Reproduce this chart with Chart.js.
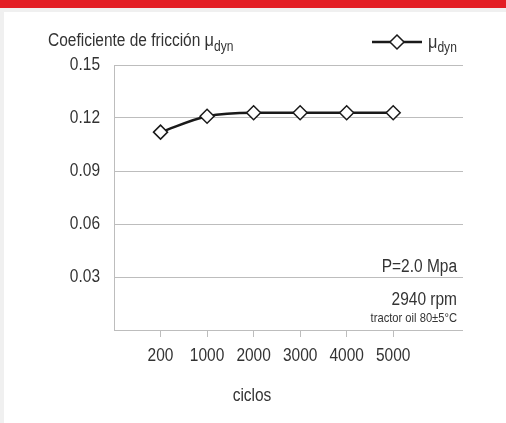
<!DOCTYPE html>
<html>
<head>
<meta charset="utf-8">
<script src="https://cdn.jsdelivr.net/npm/chart.js@4"></script>
<style>
  html, body { margin: 0; padding: 0; background: #fff; }
  #wrap { position: relative; width: 506px; height: 423px; }
  canvas { display: block; }
</style>
</head>
<body>
<div id="wrap"><canvas id="friccionChart" width="506" height="423"></canvas></div>
<script>
// datos
const ciclos = ['200', '1000', '2000', '3000', '4000', '5000'];
const muDyn = [0.112, 0.121, 0.123, 0.123, 0.123, 0.123];
const yTicks = [0.03, 0.06, 0.09, 0.12, 0.15];

const FONT = '"Liberation Sans", Arial, sans-serif';
const TEXT = '#333333';
const GRID = '#bdbdbd';
const SX = 0.86; // letra estrecha

// texto comprimido en horizontal
function narrowText(c, txt, x, y, align, size) {
    c.save();
    c.font = size + 'px ' + FONT;
    c.textAlign = align;
    c.translate(x, y);
    c.scale(SX, 1);
    c.fillText(txt, 0, 0);
    c.restore();
    c.font = size + 'px ' + FONT;
    return c.measureText(txt).width * SX;
}

function drawDiamond(c, x, y, r) {
    c.save();
    c.fillStyle = '#ffffff';
    c.strokeStyle = '#1a1a1a';
    c.lineWidth = 1.5;
    c.beginPath();
    c.moveTo(x, y - r);
    c.lineTo(x + r, y);
    c.lineTo(x, y + r);
    c.lineTo(x - r, y);
    c.closePath();
    c.fill();
    c.stroke();
    c.restore();
}

// marco, título, leyenda, etiquetas y notas
const decoPlugin = {
    id: 'deco',
    beforeDraw(chart) {
        const c = chart.ctx;
        c.save();
        c.fillStyle = '#f0f0f0';
        c.fillRect(0, 0, 506, 423);
        c.fillStyle = '#ffffff';
        c.fillRect(4, 12, 502, 411);
        c.fillStyle = '#e31e24';
        c.fillRect(0, 0, 506, 8);
        c.restore();
    },
    afterDraw(chart) {
        const c = chart.ctx;
        const area = chart.chartArea;
        const xs = chart.scales.x;
        const ys = chart.scales.y;
        c.save();
        c.fillStyle = TEXT;
        c.textBaseline = 'alphabetic';

        // título
        let x = 48;
        x += narrowText(c, 'Coeficiente de fricción ', x, 46, 'left', 18);
        x += narrowText(c, 'μ', x, 46, 'left', 19);
        narrowText(c, 'dyn', x, 51, 'left', 14);

        // leyenda
        c.strokeStyle = '#1a1a1a';
        c.lineWidth = 2.5;
        c.beginPath();
        c.moveTo(372, 42);
        c.lineTo(422, 42);
        c.stroke();
        drawDiamond(c, 397, 42, 7);
        x = 428;
        x += narrowText(c, 'μ', x, 48, 'left', 19);
        narrowText(c, 'dyn', x, 52, 'left', 14);

        // etiquetas eje y
        c.textBaseline = 'middle';
        yTicks.forEach(v => {
            narrowText(c, v.toFixed(2), 100, ys.getPixelForValue(v), 'right', 18);
        });
        // etiquetas eje x
        ciclos.forEach((lab, i) => {
            narrowText(c, lab, xs.getPixelForValue(i), 356, 'center', 18);
        });
        c.textBaseline = 'alphabetic';

        // notas de ensayo
        narrowText(c, 'P=2.0 Mpa', area.right - 6, 272, 'right', 18);
        narrowText(c, '2940 rpm', area.right - 6, 305, 'right', 18);
        narrowText(c, 'tractor oil 80±5°C', area.right - 6, 322, 'right', 13);

        // título eje x
        narrowText(c, 'ciclos', 252, 401, 'center', 18);
        c.restore();
    }
};

function initializeFriccionChart() {
    const ctx = document.getElementById('friccionChart');
    const puntos = muDyn.map((v, i) => ({ x: i, y: v }));

    new Chart(ctx, {
        type: 'line',
        data: {
            datasets: [{
                label: 'μdyn',
                data: puntos,
                borderColor: '#1a1a1a',
                borderWidth: 2.5,
                backgroundColor: '#ffffff',
                pointStyle: 'rectRot',
                pointRadius: 7,
                pointBorderWidth: 1.5,
                pointBorderColor: '#1a1a1a',
                pointBackgroundColor: '#ffffff',
                cubicInterpolationMode: 'monotone'
            }]
        },
        options: {
            responsive: false,
            animation: false,
            devicePixelRatio: 1,
            layout: { padding: { left: 0, top: 65, right: 43, bottom: 0 } },
            plugins: {
                legend: { display: false },
                tooltip: { enabled: false }
            },
            scales: {
                x: {
                    type: 'linear',
                    min: -1,
                    max: 6.5,
                    afterBuildTicks: (s) => { s.ticks = [-1, 0, 1, 2, 3, 4, 5].map(v => ({ value: v })); },
                    afterFit: (s) => { s.height = 93; },
                    border: { display: false },
                    grid: {
                        drawOnChartArea: false,
                        drawTicks: true,
                        tickLength: 7,
                        tickColor: (c) => (c.tick && c.tick.value >= 0 ? GRID : 'rgba(0,0,0,0)')
                    },
                    ticks: {
                        color: 'rgba(0,0,0,0)',
                        font: { family: FONT, size: 17 },
                        maxRotation: 0,
                        autoSkip: false,
                        callback: (v) => (ciclos[v] !== undefined ? ciclos[v] : '')
                    }
                },
                y: {
                    min: 0,
                    max: 0.15,
                    afterBuildTicks: (s) => { s.ticks = [0].concat(yTicks).map(v => ({ value: v })); },
                    afterFit: (s) => { s.width = 114; },
                    border: { display: true, color: GRID, width: 1 },
                    grid: { color: GRID, drawTicks: false, lineWidth: 1 },
                    ticks: {
                        color: 'rgba(0,0,0,0)',
                        font: { family: FONT, size: 17 },
                        callback: (v) => (v === 0 ? '' : v.toFixed(2))
                    }
                }
            }
        },
        plugins: [decoPlugin]
    });
}

document.addEventListener('DOMContentLoaded', () => {
    initializeFriccionChart();
});
</script>
</body>
</html>
